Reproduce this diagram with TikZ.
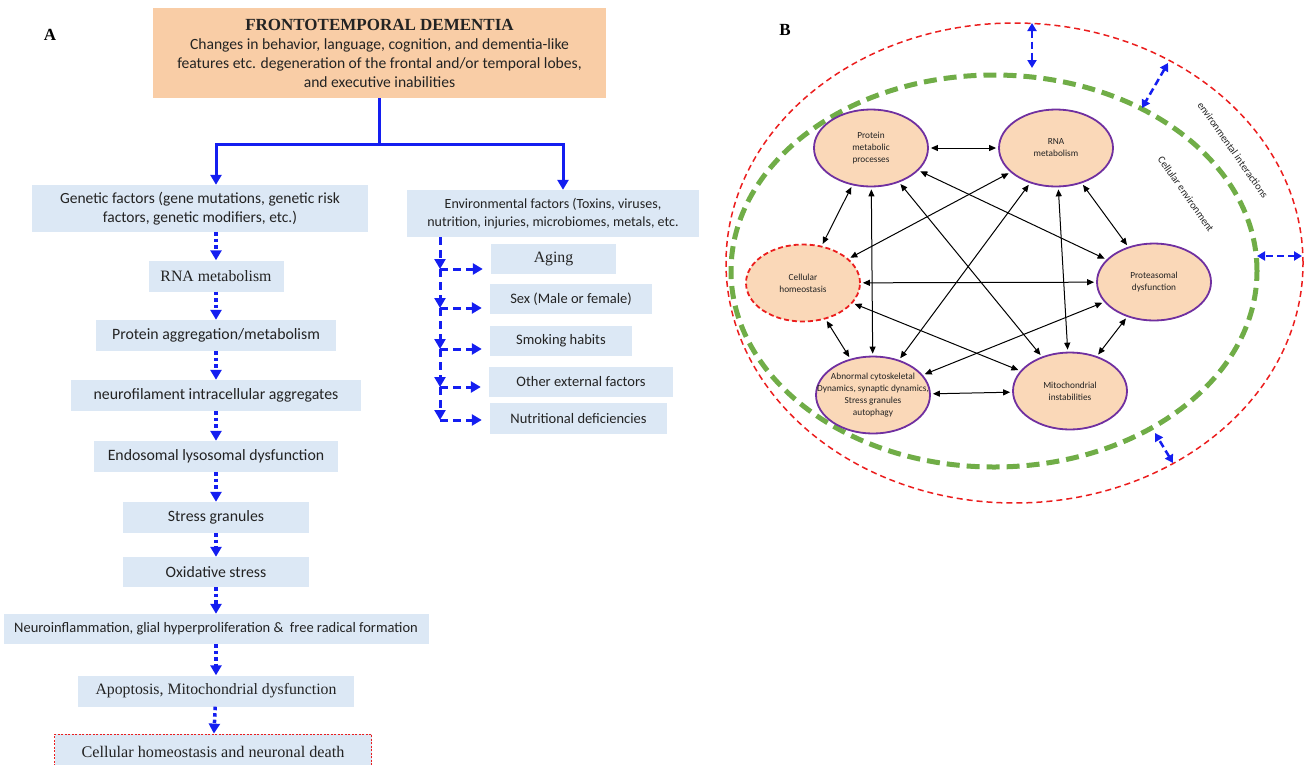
\documentclass[tikz,border=0pt]{standalone}
\usepackage{fontspec}
\setmainfont{Liberation Serif}
\newfontfamily\calfont{Carlito}
\usetikzlibrary{arrows.meta,shapes.geometric}
\definecolor{peach}{RGB}{249,205,166}
\definecolor{boxblue}{RGB}{220,232,245}
\definecolor{cellfill}{RGB}{250,216,184}
\definecolor{cellrim}{RGB}{112,48,160}
\definecolor{flowblue}{RGB}{20,30,240}
\definecolor{envgreen}{RGB}{112,173,71}
\definecolor{envred}{RGB}{235,30,30}
\definecolor{ink}{RGB}{35,35,35}

\begin{document}
\begin{tikzpicture}[x=1pt,y=-1pt,
    box/.style={fill=boxblue,text=ink,inner sep=0pt,minimum height=31pt,align=center,
      font=\calfont\fontsize{15.8}{18}\selectfont},
    sbox/.style={box,font=\fontsize{15.8}{18}\selectfont},
    ebox/.style={box,minimum height=30pt,font=\calfont\fontsize{14.5}{18}\selectfont},
    flow/.style={draw=flowblue,line width=3pt,-{Triangle[length=10pt,width=11pt]}},
    dotflow/.style={flow,line width=3.5pt,dash pattern=on 3.5pt off 3pt},
    envflow/.style={flow,dash pattern=on 8pt off 5pt},
    cell/.style={ellipse,draw=cellrim,line width=1.8pt,fill=cellfill,
      minimum width=114pt,minimum height=77pt,inner sep=0pt},
    celltext/.style={align=center,text=ink,font=\calfont\fontsize{9.3}{12}\selectfont},
    link/.style={<->,>={Triangle[length=7pt,width=6pt]},line width=1pt,
      shorten <=2pt,shorten >=2pt},
    bothway/.style={draw=flowblue,line width=2.5pt,dash pattern=on 7pt off 4pt,
      {Triangle[length=8pt,width=9pt]}-{Triangle[length=8pt,width=9pt]}},
    panel/.style={font=\bfseries\fontsize{17}{20}\selectfont}]
  \useasboundingbox (0,0) rectangle (1307,764);

  \node[panel] (panA) at (50,35) {A};
  \node[fill=peach,text=ink,inner sep=0pt,minimum width=453pt,minimum height=90pt,align=center,
    font=\calfont\fontsize{15.6}{19}\selectfont] (top) at (379.5,53)
    {{\rmfamily\bfseries\fontsize{17}{20}\selectfont FRONTOTEMPORAL DEMENTIA}\\
     Changes in behavior, language, cognition, and dementia-like\\
     features etc. degeneration of the frontal and/or temporal lobes,\\
     and executive inabilities};

  \node[box,minimum width=336pt,minimum height=47pt,font=\calfont\fontsize{15.5}{18.5}\selectfont] (gen) at (200,208.5)
    {Genetic factors (gene mutations, genetic risk\\ factors, genetic modifiers, etc.)};
  \node[sbox,minimum width=135pt] (rna) at (216,276) {RNA metabolism};
  \node[box,minimum width=240pt] (prot) at (216,335.5) {Protein aggregation/metabolism};
  \node[box,minimum width=290pt] (neuro) at (216,395.5) {neurofilament intracellular aggregates};
  \node[box,minimum width=244pt] (endo) at (216,456.5) {Endosomal lysosomal dysfunction};
  \node[box,minimum width=186pt] (stress) at (216,517.5) {Stress granules};
  \node[box,minimum width=186pt,minimum height=30pt] (oxi) at (216,572) {Oxidative stress};
  \node[box,minimum width=425pt,minimum height=30pt,font=\calfont\fontsize{14.5}{18}\selectfont] (inflam) at (216,629)
    {Neuroinflammation, glial hyperproliferation \&\ \ free radical formation};
  \node[sbox,minimum width=276pt] (apo) at (216,691) {Apoptosis, Mitochondrial dysfunction};
  \node[sbox,minimum width=317pt,minimum height=36pt,draw=envred,line width=0.8pt,
    dash pattern=on 2pt off 1.5pt,font=\fontsize{16.2}{18}\selectfont] (death) at (213,752) {Cellular homeostasis and neuronal death};

  \node[box,minimum width=292pt,minimum height=47pt,font=\calfont\fontsize{14}{18}\selectfont] (env) at (553,213.5)
    {Environmental factors (Toxins, viruses,\\ nutrition, injuries, microbiomes, metals, etc.};
  \node[sbox,minimum width=125pt,minimum height=30pt] (aging) at (553.5,259) {Aging};
  \node[ebox,minimum width=162pt] (sex) at (571,299) {Sex (Male or female)};
  \node[ebox,minimum width=142pt] (smoke) at (561,341) {Smoking habits};
  \node[ebox,minimum width=184pt] (other) at (581,382) {Other external factors};
  \node[ebox,minimum width=177pt,minimum height=31pt] (nutri) at (578.5,418.5) {Nutritional deficiencies};

  \draw[flow] (top.south) -- ++(0,46) coordinate (fork) -| (gen.north -| rna);
  \draw[flow] (fork) -| ([xshift=10pt]env.north);
  \draw[dotflow] (gen.south -| rna) -- (rna);
  \foreach \a/\b in {rna/prot,prot/neuro,neuro/endo,endo/stress,stress/oxi,oxi/inflam,inflam/apo,apo/death}
    \draw[dotflow] (\a) -- (\b);

  \coordinate (b0) at (440,237);
  \foreach \i/\n/\y in {1/aging/269,2/sex/308,3/smoke/349,4/other/387,5/nutri/420}{
    \pgfmathtruncatemacro\j{\i-1}
    \coordinate (b\i) at (440,\y);
    \draw[envflow] (b\j) -- (b\i);
    \draw[envflow,shorten >=8pt] (b\i) -- (b\i -| \n.west);
  }

  \node[panel] (panB) at (785,30) {B};
  \draw[envred,line width=1.5pt,dash pattern=on 6pt off 4pt] (1014.5,263) ellipse [x radius=288.5pt,y radius=240pt];
  \draw[envgreen,line width=5pt,dash pattern=on 13pt off 7pt] (994,271) ellipse [x radius=263pt,y radius=196pt];

  \node[cell,label={[celltext]center:Protein\\metabolic\\processes}] (pmp) at (871,148) {};
  \node[cell,label={[celltext]center:RNA\\metabolism}] (rnam) at (1056,148) {};
  \node[cell,draw=envred,dash pattern=on 5pt off 3pt,label={[celltext]center:Cellular\\homeostasis}] (home) at (803,283) {};
  \node[cell,label={[celltext]center:Proteasomal\\dysfunction}] (prot2) at (1154,282) {};
  \node[cell,label={[celltext]center:Abnormal cytoskeletal\\Dynamics, synaptic dynamics,\\Stress granules\\autophagy}] (cyto) at (873,395) {};
  \node[cell,label={[celltext]center:Mitochondrial\\instabilities}] (mito) at (1070,391) {};

  \foreach \a/\b in {pmp/rnam,pmp/home,pmp/cyto,pmp/mito,pmp/prot2,rnam/home,rnam/cyto,rnam/mito,
      rnam/prot2,home/prot2,home/mito,home/cyto,cyto/prot2,cyto/mito,mito/prot2}
    \draw[link] (\a) -- (\b);

  \node[rotate=-55,text=ink,font=\calfont\fontsize{10.5}{12}\selectfont] (envlab) at (1233,150) {environmental interactions};
  \node[rotate=-55,text=ink,font=\calfont\fontsize{10.5}{12}\selectfont] (celllab) at (1186,194) {Cellular environment};

  \coordinate (t1) at (1032,23);   \coordinate (t2) at (1032,68);
  \coordinate (d1) at (1168,63);   \coordinate (d2) at (1142,108);
  \coordinate (r1) at (1302,256);  \coordinate (r2) at (1257,256);
  \coordinate (s1) at (1173,463);  \coordinate (s2) at (1155,433);
  \foreach \p in {t,d,r,s}
    \draw[bothway] (\p1) -- (\p2);
\end{tikzpicture}
\end{document}
